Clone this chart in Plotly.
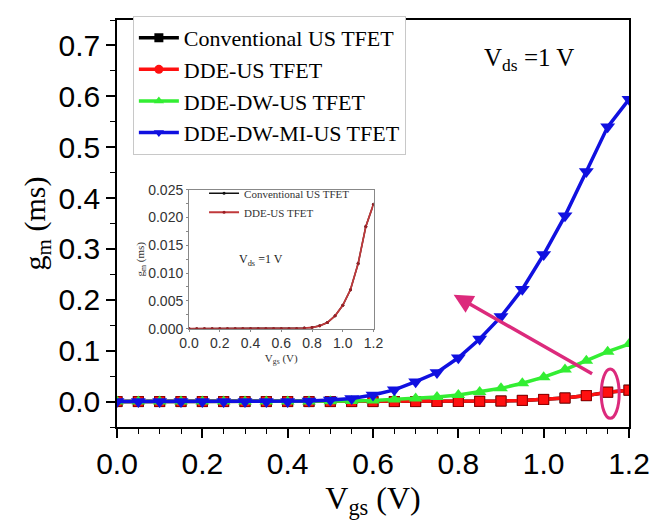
import plotly.graph_objects as go

vgs = [0.00, 0.05, 0.10, 0.15, 0.20, 0.25, 0.30, 0.35, 0.40, 0.45, 0.50, 0.55,
       0.60, 0.65, 0.70, 0.75, 0.80, 0.85, 0.90, 0.95, 1.00, 1.05, 1.10, 1.15, 1.20]

gm_conventional = [0, 0, 0, 0, 0, 0, 0, 0, 0, 0, 0, 0, 0, 0, 0, 0.0001, 0.0002,
                   0.0005, 0.0011, 0.0023, 0.0042, 0.0070, 0.0117, 0.0184, 0.0224]
gm_dde = [0, 0, 0, 0, 0, 0, 0, 0, 0, 0, 0, 0, 0, 0, 0, 0.0001, 0.0002,
          0.0005, 0.0011, 0.0023, 0.0042, 0.0070, 0.0117, 0.0184, 0.0224]
gm_dde_dw = [0, 0, 0, 0, 0, 0, 0, 0, 0, 0, 0.0005, 0.001, 0.002, 0.004, 0.006,
             0.009, 0.013, 0.019, 0.026, 0.036, 0.048, 0.063, 0.080, 0.098, 0.113]
gm_dde_dw_mi = [0, 0, 0, 0, 0, 0, 0, 0, 0, 0.001, 0.003, 0.006, 0.013, 0.023,
                0.039, 0.057, 0.086, 0.123, 0.167, 0.221, 0.289, 0.365, 0.452,
                0.540, 0.594]

names = ["Conventional US TFET", "DDE-US TFET", "DDE-DW-US TFET", "DDE-DW-MI-US TFET"]
x_ticks = [0.0, 0.2, 0.4, 0.6, 0.8, 1.0, 1.2]
y_ticks = [0.0, 0.1, 0.2, 0.3, 0.4, 0.5, 0.6, 0.7]
inset_y_ticks = [0.000, 0.005, 0.010, 0.015, 0.020, 0.025]

# arrow & ellipse (data coords)
arrow_head = (0.789, 0.21)
arrow_tail = (1.117, 0.053)
ellipse_box = (1.135, 1.177, -0.033, 0.064)

BLACK = "#000000"
RED = "#ff1010"
GREEN = "#33ee33"
BLUE = "#1010e0"
PINK = "#dc2a7c"
SERIF = "Liberation Serif"
SANS = "Liberation Sans"

fig = go.Figure()

# main traces (no legend)
fig.add_trace(go.Scatter(x=vgs, y=gm_conventional, mode="lines+markers", showlegend=False,
                         line=dict(color=BLACK, width=3.5),
                         marker=dict(symbol="square", size=11, color=BLACK)))
fig.add_trace(go.Scatter(x=vgs, y=gm_dde, mode="lines+markers", showlegend=False,
                         line=dict(color=RED, width=3.5),
                         marker=dict(symbol="square", size=10, color=RED,
                                     line=dict(color="#990000", width=1))))
fig.add_trace(go.Scatter(x=vgs, y=gm_dde_dw, mode="lines+markers", showlegend=False,
                         line=dict(color=GREEN, width=3.5),
                         marker=dict(symbol="triangle-up", size=12, color=GREEN)))
fig.add_trace(go.Scatter(x=vgs, y=gm_dde_dw_mi, mode="lines+markers", showlegend=False,
                         line=dict(color=BLUE, width=3.5),
                         marker=dict(symbol="triangle-down", size=13, color=BLUE)))

# legend entries
for nm, col, sym in zip(names, [BLACK, RED, GREEN, BLUE],
                        ["square", "circle", "triangle-up", "triangle-down"]):
    fig.add_trace(go.Scatter(x=[None], y=[None], mode="lines+markers", name=nm,
                             line=dict(color=col, width=3.5),
                             marker=dict(symbol=sym, size=9, color=col)))

# inset traces
fig.add_trace(go.Scatter(x=vgs, y=gm_conventional, mode="lines+markers", name=names[0],
                         xaxis="x2", yaxis="y2", legend="legend2",
                         line=dict(color="#111111", width=1.5),
                         marker=dict(symbol="circle", size=3, color="#111111")))
fig.add_trace(go.Scatter(x=vgs, y=gm_dde, mode="lines+markers", name=names[1],
                         xaxis="x2", yaxis="y2", legend="legend2",
                         line=dict(color="#c0393b", width=1.8),
                         marker=dict(symbol="circle", size=3, color="#9a1f25")))

fig.add_annotation(x=arrow_head[0], y=arrow_head[1], ax=arrow_tail[0], ay=arrow_tail[1],
                   xref="x", yref="y", axref="x", ayref="y", text="", showarrow=True,
                   arrowhead=2, arrowsize=1.1, arrowwidth=3.5, arrowcolor=PINK)
fig.add_shape(type="circle", xref="x", yref="y",
              x0=ellipse_box[0], x1=ellipse_box[1], y0=ellipse_box[2], y1=ellipse_box[3],
              line=dict(color=PINK, width=3))

fig.add_annotation(x=0.805, y=0.904, xref="paper", yref="paper", showarrow=False,
                   text="V<sub>ds</sub> =1 V", font=dict(family=SERIF, size=25, color="black"),
                   xanchor="center", yanchor="middle")
fig.add_annotation(x=0.47, y=0.0123, xref="x2", yref="y2", showarrow=False,
                   text="V<sub>ds</sub> =1 V", font=dict(family=SERIF, size=12, color="#222"),
                   xanchor="center", yanchor="middle")

axis_common = dict(showline=True, linecolor="black", linewidth=1.5, mirror=True,
                   ticks="outside", ticklen=9, tickwidth=1.5, tickcolor="black",
                   showgrid=False, zeroline=False,
                   tickfont=dict(family=SANS, size=30, color="black"),
                   minor=dict(ticks="outside", ticklen=5, tickwidth=1.2, tickcolor="black"))

fig.update_layout(
    width=662, height=525,
    margin=dict(l=117, r=26, t=12, b=98),
    paper_bgcolor="white", plot_bgcolor="white",
    xaxis=dict(range=[0, 1.2], tickvals=x_ticks, ticktext=[f"{v:.1f}" for v in x_ticks],
               title=dict(text="V<sub>gs</sub> (V)", font=dict(family=SERIF, size=32, color="black"),
                          standoff=6),
               **axis_common, dtick=0.2),
    yaxis=dict(range=[-0.05, 0.75], tickvals=y_ticks, ticktext=[f"{v:.1f}" for v in y_ticks],
               title=dict(text="g<sub>m</sub> (ms)", font=dict(family=SERIF, size=30, color="black"),
                          standoff=4),
               **axis_common, dtick=0.1),
    xaxis2=dict(domain=[0.1407, 0.501], anchor="y2", range=[0, 1.2],
                tickvals=x_ticks, ticktext=[f"{v:.1f}" for v in x_ticks],
                showline=True, linecolor="#888", linewidth=1, mirror=True,
                ticks="outside", ticklen=2, tickcolor="#888", showgrid=False, zeroline=False,
                tickfont=dict(family=SANS, size=14, color="#333"),
                title=dict(text="V<sub>gs</sub> (V)", font=dict(family=SERIF, size=11, color="#333"),
                           standoff=3)),
    yaxis2=dict(domain=[0.2417, 0.583], anchor="x2", range=[0, 0.025],
                tickvals=inset_y_ticks, ticktext=[f"{v:.3f}" for v in inset_y_ticks],
                showline=True, linecolor="#888", linewidth=1, mirror=True,
                ticks="outside", ticklen=2, tickcolor="#888", showgrid=False, zeroline=False,
                tickfont=dict(family=SANS, size=14, color="#333"),
                minor=dict(ticks="outside", ticklen=2, tickcolor="#888", dtick=0.0025),
                title=dict(text="g<sub>m</sub> (ms)", font=dict(family=SERIF, size=11, color="#333"),
                           standoff=0)),
    legend=dict(x=0.031, y=1.01, xanchor="left", yanchor="top",
                bgcolor="white", bordercolor="#c8c8c8", borderwidth=1,
                font=dict(family=SERIF, size=22, color="black"),
                tracegroupgap=0, itemwidth=40),
    legend2=dict(x=0.17, y=0.61, xanchor="left", yanchor="top",
                 bgcolor="rgba(0,0,0,0)", borderwidth=0,
                 font=dict(family=SERIF, size=11, color="#333"),
                 tracegroupgap=0, itemwidth=30),
)

fig.write_html("out.html")
